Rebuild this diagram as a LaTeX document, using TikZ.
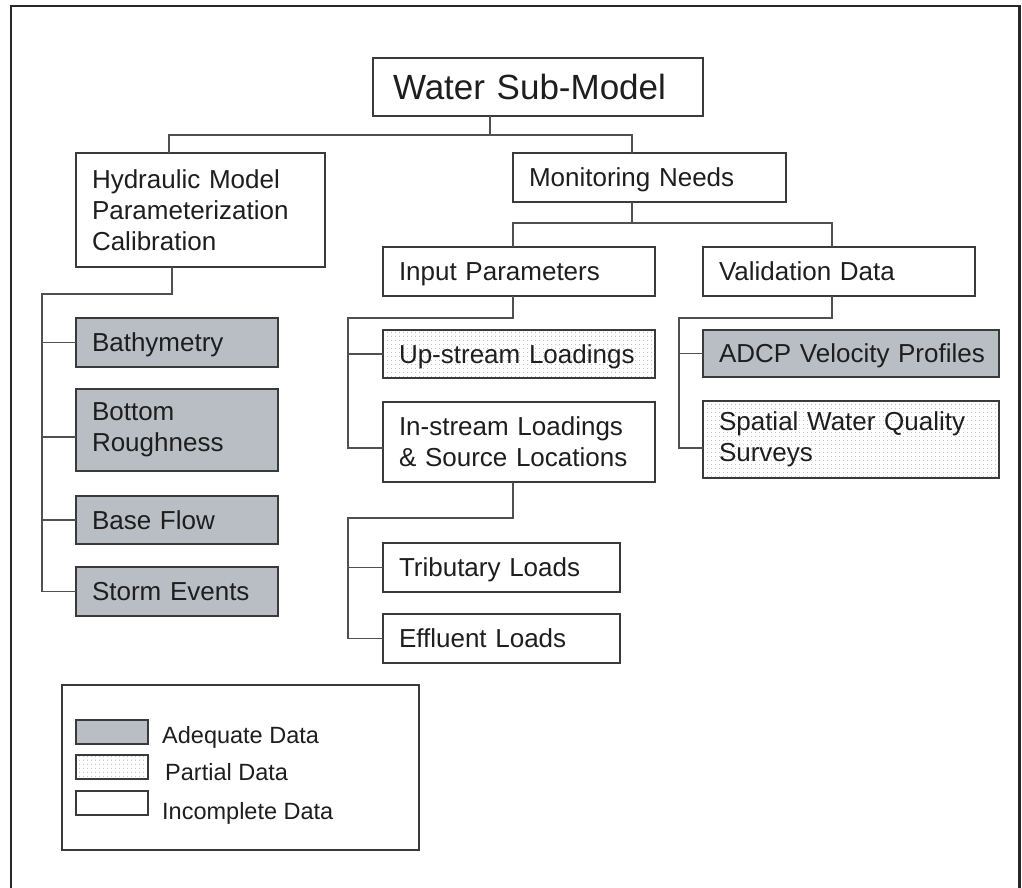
\documentclass[tikz,border=0pt]{standalone}
\usepackage{fontspec}
\setmainfont{Liberation Sans}
\usetikzlibrary{patterns.meta}

\definecolor{boxline}{RGB}{58,58,58}
\definecolor{linkline}{RGB}{80,80,80}
\definecolor{frameline}{RGB}{40,40,40}
\definecolor{adequate}{RGB}{185,190,197}
\definecolor{dotgrey}{RGB}{170,170,170}
\definecolor{ink}{RGB}{30,30,30}

\tikzset{
  box/.style={draw=boxline, line width=2pt, anchor=north west,
    inner xsep=16pt, inner ysep=0pt, outer sep=0pt, align=left, text=ink,
    font=\fontsize{26}{31}\selectfont},
  oneline/.style={text depth=0pt},
  adequatebox/.style={box, fill=adequate},
  partialbox/.style={box, pattern={Dots[distance=4pt,radius=0.6pt]}, pattern color=dotgrey},
  link/.style={draw=linkline, line width=1.8pt},
  swatch/.style={draw=boxline, line width=1.8pt, anchor=north west, inner sep=0pt,
    outer sep=0pt, minimum width=72pt, minimum height=24pt},
  legendtext/.style={anchor=base west, inner sep=0pt, text=ink,
    font=\fontsize{23.5}{28}\selectfont}
}

\begin{document}
\begin{tikzpicture}[x=1pt,y=-1pt]
  \useasboundingbox (0,0) rectangle (1022,888);
  \fill[white] (0,0) rectangle (1022,888);

  % outer frame (open at the bottom edge)
  \draw[frameline, line width=2.8pt] (11,890) -- (11,6) -- (1019.5,6) -- (1019.5,890);

  % root
  \node[box, oneline, inner xsep=20pt, text width=290pt, minimum height=58pt,
        font=\fontsize{35}{40}\selectfont] (water) at (373,58) {Water Sub-Model};

  % second level
  \node[box, text width=217pt, minimum height=114pt] (hyd) at (76,153)
    {Hydraulic Model\\Parameterization\\Calibration};
  \node[box, oneline, text width=241pt, minimum height=49pt] (mon) at (513,153) {Monitoring Needs};

  % third level
  \node[box, oneline, text width=240pt, minimum height=49pt] (inp) at (383,247) {Input Parameters};
  \node[box, oneline, text width=240pt, minimum height=49pt] (val) at (703,247) {Validation Data};

  % hydraulic leaves
  \node[adequatebox, oneline, text width=170pt, minimum height=49pt] (bath)  at (76,318) {Bathymetry};
  \node[adequatebox, text width=170pt, minimum height=82pt] (rough) at (76,389) {Bottom\\Roughness};
  \node[adequatebox, oneline, text width=170pt, minimum height=48pt] (base)  at (76,496) {Base Flow};
  \node[adequatebox, oneline, text width=170pt, minimum height=49pt] (storm) at (76,567) {Storm Events};

  % input parameter leaves
  \node[partialbox, oneline, text width=240pt, minimum height=48pt] (up)  at (383,330) {Up-stream Loadings};
  \node[box, text width=240pt, minimum height=80pt] (ins) at (383,402)
    {In-stream Loadings\\\& Source Locations};
  \node[box, oneline, text width=205pt, minimum height=49pt] (trib) at (383,543) {Tributary Loads};
  \node[box, oneline, text width=205pt, minimum height=49pt] (eff)  at (383,614) {Effluent Loads};

  % validation leaves
  \node[adequatebox, oneline, text width=264pt, minimum height=47pt] (adcp) at (703,330)
    {\mbox{ADCP Velocity Profiles}};
  \node[partialbox, text width=264pt, minimum height=77pt] (spat) at (703,401)
    {Spatial Water Quality\\Surveys};

  % root connectors
  \coordinate (r0) at (490,135);
  \coordinate (rL) at (169,135);
  \coordinate (rR) at (632,135);
  \draw[link] (water.south -| r0) -- (r0);
  \draw[link] (hyd.north -| rL) -- (rL) -- (rR) -- (mon.north -| rR);

  % monitoring connectors
  \coordinate (m0) at (632,223);
  \coordinate (mL) at (513,223);
  \coordinate (mR) at (832,223);
  \draw[link] (mon.south -| m0) -- (m0);
  \draw[link] (inp.north -| mL) -- (mL) -- (mR) -- (val.north -| mR);

  % hydraulic connectors
  \coordinate (h0) at (172,294);
  \coordinate (hT) at (42,294);
  \coordinate (hR) at (42,437);
  \draw[link] (hyd.south -| h0) -- (h0) -- (hT) -- (storm.west -| hT) -- (storm.west);
  \draw[link] (bath.west -| hT) -- (bath.west);
  \draw[link] (hR) -- (hR -| rough.west);
  \draw[link] (base.west -| hT) -- (base.west);

  % input parameter connectors
  \coordinate (i0) at (513,318);
  \coordinate (iT) at (348,318);
  \coordinate (iB) at (348,448);
  \draw[link] (inp.south -| i0) -- (i0) -- (iT) -- (iB) -- (iB -| ins.west);
  \draw[link] (up.west -| iT) -- (up.west);

  % validation connectors
  \coordinate (v0) at (832,318);
  \coordinate (vT) at (679,318);
  \coordinate (vB) at (679,448);
  \draw[link] (val.south -| v0) -- (v0) -- (vT) -- (vB) -- (vB -| spat.west);
  \draw[link] (adcp.west -| vT) -- (adcp.west);

  % in-stream connectors
  \coordinate (s0) at (513,518);
  \coordinate (sT) at (348,518);
  \draw[link] (ins.south -| s0) -- (s0) -- (sT) -- (eff.west -| sT) -- (eff.west);
  \draw[link] (trib.west -| sT) -- (trib.west);

  % legend
  \node[draw=boxline, line width=1.6pt, anchor=north west, inner sep=0pt, outer sep=0pt,
        minimum width=357pt, minimum height=165pt] (legend) at (62,685) {};
  \node[swatch, fill=adequate] (swA) at (76,720) {};
  \node[swatch, pattern={Dots[distance=4pt,radius=0.6pt]}, pattern color=dotgrey] (swP) at (76,755) {};
  \node[swatch] (swI) at (76,791) {};
  \node[legendtext] (txA) at (162,743) {Adequate Data};
  \node[legendtext] (txP) at (165,780) {Partial Data};
  \node[legendtext] (txI) at (162,819) {Incomplete Data};
\end{tikzpicture}
\end{document}
